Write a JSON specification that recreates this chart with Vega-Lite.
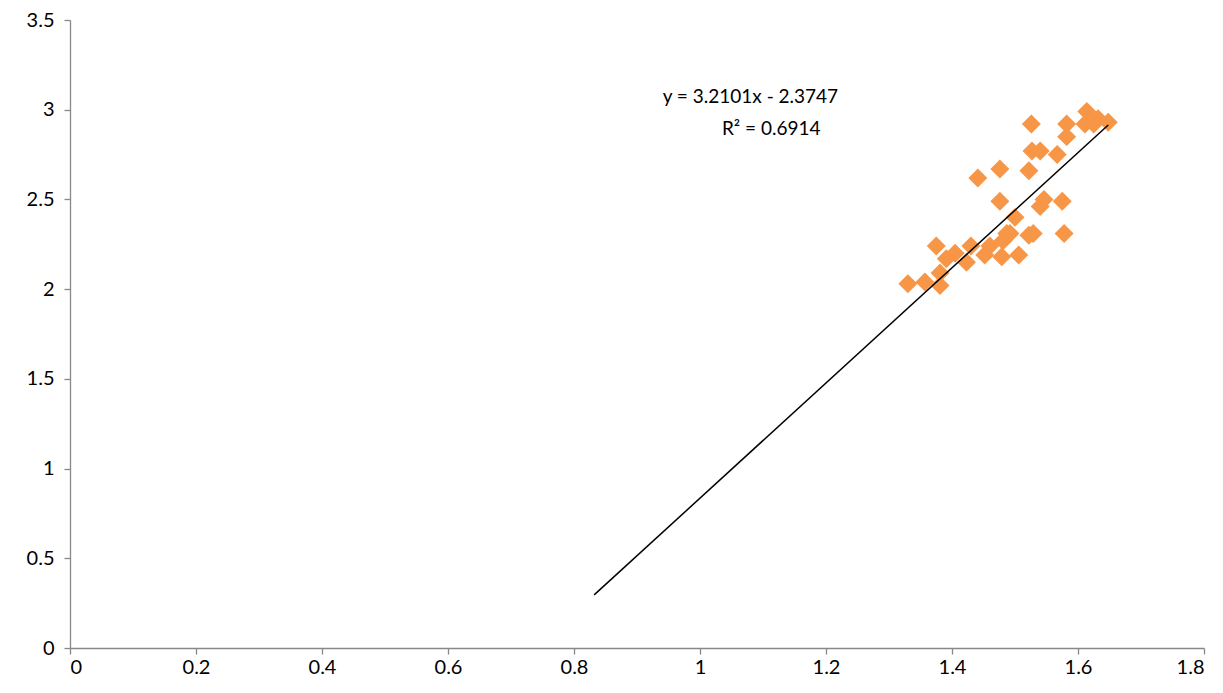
{
  "$schema": "https://vega.github.io/schema/vega-lite/v6.json",
  "width": 1134,
  "height": 628,
  "autosize": {"type": "none"},
  "padding": {"left": 70, "top": 20, "right": 19, "bottom": 45},
  "background": "white",
  "config": {
    "view": {"stroke": null},
    "font": "Lato",
    "axis": {
      "grid": false,
      "domainColor": "#888888",
      "tickColor": "#888888",
      "domainWidth": 1.3,
      "tickWidth": 1.3,
      "tickSize": 6,
      "labelFont": "Lato",
      "labelFontSize": 20,
      "labelColor": "#000000",
      "format": "~g",
      "title": null
    }
  },
  "datasets": {
    "points": [
      {"x": 1.330, "y": 2.03},
      {"x": 1.357, "y": 2.04},
      {"x": 1.381, "y": 2.02},
      {"x": 1.381, "y": 2.09},
      {"x": 1.375, "y": 2.24},
      {"x": 1.391, "y": 2.17},
      {"x": 1.405, "y": 2.20},
      {"x": 1.423, "y": 2.15},
      {"x": 1.430, "y": 2.24},
      {"x": 1.441, "y": 2.62},
      {"x": 1.452, "y": 2.19},
      {"x": 1.460, "y": 2.24},
      {"x": 1.476, "y": 2.67},
      {"x": 1.476, "y": 2.49},
      {"x": 1.481, "y": 2.27},
      {"x": 1.479, "y": 2.18},
      {"x": 1.487, "y": 2.31},
      {"x": 1.492, "y": 2.31},
      {"x": 1.500, "y": 2.40},
      {"x": 1.506, "y": 2.19},
      {"x": 1.522, "y": 2.30},
      {"x": 1.529, "y": 2.31},
      {"x": 1.526, "y": 2.92},
      {"x": 1.522, "y": 2.66},
      {"x": 1.527, "y": 2.77},
      {"x": 1.540, "y": 2.77},
      {"x": 1.540, "y": 2.46},
      {"x": 1.546, "y": 2.50},
      {"x": 1.567, "y": 2.75},
      {"x": 1.575, "y": 2.49},
      {"x": 1.578, "y": 2.31},
      {"x": 1.582, "y": 2.85},
      {"x": 1.582, "y": 2.92},
      {"x": 1.614, "y": 2.99},
      {"x": 1.611, "y": 2.92},
      {"x": 1.632, "y": 2.95},
      {"x": 1.625, "y": 2.92},
      {"x": 1.648, "y": 2.93}
    ],
    "trend": [
      {"x": 0.832, "y": 0.296},
      {"x": 1.648, "y": 2.915}
    ],
    "labels": [
      {"x": 1.080, "y": 3.07, "text": "y = 3.2101x - 2.3747"},
      {"x": 1.113, "y": 2.895, "text": "R² = 0.6914"}
    ]
  },
  "layer": [
    {
      "data": {"name": "points"},
      "mark": {"type": "point", "shape": "diamond", "filled": true, "size": 360, "color": "#F79646", "opacity": 1},
      "encoding": {
        "x": {"field": "x", "type": "quantitative", "scale": {"domain": [0, 1.8], "nice": false, "zero": true}, "axis": {"values": [0, 0.2, 0.4, 0.6, 0.8, 1, 1.2, 1.4, 1.6, 1.8], "labelPadding": 3}},
        "y": {"field": "y", "type": "quantitative", "scale": {"domain": [0, 3.5], "nice": false}, "axis": {"values": [0, 0.5, 1, 1.5, 2, 2.5, 3, 3.5], "labelPadding": 10}}
      }
    },
    {
      "data": {"name": "trend"},
      "mark": {"type": "line", "color": "#000000", "strokeWidth": 1.5},
      "encoding": {
        "x": {"field": "x", "type": "quantitative"},
        "y": {"field": "y", "type": "quantitative"}
      }
    },
    {
      "data": {"name": "labels"},
      "mark": {"type": "text", "font": "Lato", "fontSize": 19, "color": "#000000", "align": "center", "baseline": "middle"},
      "encoding": {
        "x": {"field": "x", "type": "quantitative"},
        "y": {"field": "y", "type": "quantitative"},
        "text": {"field": "text"}
      }
    }
  ]
}
